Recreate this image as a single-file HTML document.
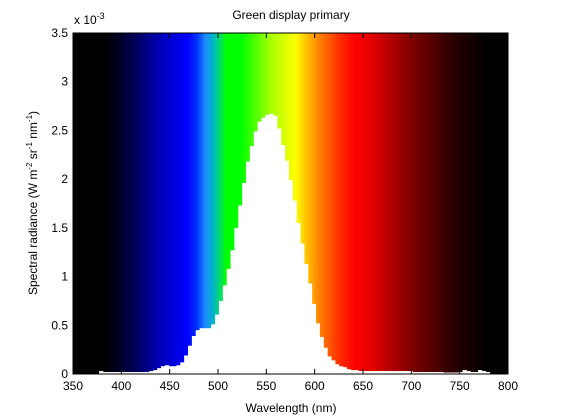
<!DOCTYPE html>
<html><head><meta charset="utf-8"><style>
html,body{margin:0;padding:0;background:#fff;}
svg{display:block;font-family:"Liberation Sans",Arial,sans-serif;}
</style></head><body>
<svg id="chart" width="561" height="420" viewBox="0 0 561 420" xmlns="http://www.w3.org/2000/svg">
<defs>
<linearGradient id="spec" gradientUnits="userSpaceOnUse" x1="73" x2="508" y1="0" y2="0"></linearGradient>
</defs>
<rect x="73" y="33" width="435" height="341" fill="url(#spec)"/>
<g id="bars"></g>
<g id="axes"></g>
<text x="291" y="19" font-size="12" text-anchor="middle">Green display primary</text>
<text x="291" y="412" font-size="12" text-anchor="middle">Wavelength (nm)</text>
<text transform="translate(37,203) rotate(-90)" font-size="12" text-anchor="middle">Spectral radiance (W m<tspan font-size="8" dy="-5">-2</tspan><tspan dy="5"> sr</tspan><tspan font-size="8" dy="-5">-1</tspan><tspan dy="5"> nm</tspan><tspan font-size="8" dy="-5">-1</tspan><tspan dy="5">)</tspan></text>
<text x="74" y="24" font-size="12">x 10<tspan font-size="9" dy="-5">-3</tspan></text>
</svg>
<script>
const xTicks = [350,400,450,500,550,600,650,700,750,800];
const yTicks = [0,0.5,1,1.5,2,2.5,3,3.5];
const yTickLabels = ["0","0.5","1","1.5","2","2.5","3","3.5"];
const binStart = 377;
const binWidth = 4;
const radiance = [0.03,0.02,0.02,0.02,0.02,0.02,0.02,0.02,0.02,0.02,0.02,0.02,0.02,
0.03,0.04,0.06,0.08,0.09,0.08,0.08,0.09,0.12,0.19,0.29,0.39,0.45,0.47,0.47,0.47,0.51,0.61,0.75,0.91,
1.08,1.27,1.50,1.73,1.96,2.18,2.34,2.49,2.59,2.63,2.66,2.67,2.65,2.52,2.35,2.19,1.99,1.78,1.55,1.34,
1.13,0.93,0.72,0.52,0.38,0.27,0.18,0.14,0.10,0.08,0.07,0.05,0.04,0.04,0.03,0.03,
0.03,0.03,0.03,0.03,0.03,0.03,0.03,0.03,0.03,0.03,0.03,0.03,
0.02,0.02,0.02,0.02,0.02,0.02,0.02,0.02,0.015,0.015,0.015,0.015,
0.02,0.04,0.03,0.02,0.02,0.04,0.03,0.02];
const specStops = [[350,"#000000"],[384,"#000000"],[410,"#00004a"],[440,"#0000b8"],[468,"#0000ff"],[478,"#0030ff"],[487,"#1e8cff"],[495,"#00b4c8"],[503,"#00e060"],[508,"#00ff00"],[524,"#00ff00"],[555,"#a8ff00"],[580,"#ffff00"],[592,"#ffc000"],[605,"#ff8000"],[625,"#ff3000"],[642,"#ff0000"],[660,"#e00000"],[700,"#800000"],[740,"#300000"],[778,"#000000"],[800,"#000000"]];

const NS="http://www.w3.org/2000/svg";
const X0=73,X1=508,Y0=374,Y1=33;
function xs(w){return X0+(w-350)/(800-350)*(X1-X0);}
function ys(v){return Y0-v/3.5*(Y0-Y1);}

const grad=document.getElementById('spec');
specStops.forEach(s=>{
  const st=document.createElementNS(NS,'stop');
  st.setAttribute('offset',((s[0]-350)/450*100)+'%');
  st.setAttribute('stop-color',s[1]);
  grad.appendChild(st);
});

const bars=document.getElementById('bars');
radiance.forEach((v,i)=>{
  const w=binStart+i*binWidth;
  const r=document.createElementNS(NS,'rect');
  
  
  const xa=xs(w),xb=xs(w+binWidth);
  r.setAttribute('x',xa);
  r.setAttribute('width',xb-xa+0.4);
  r.setAttribute('y',ys(v));
  r.setAttribute('height',Y0-ys(v));
  r.setAttribute('fill','#ffffff');
  bars.appendChild(r);
});

const axes=document.getElementById('axes');
function el(tag,attrs){const e=document.createElementNS(NS,tag);for(const k in attrs)e.setAttribute(k,attrs[k]);return e;}
const frame=el('rect',{x:X0,y:Y1,width:X1-X0,height:Y0-Y1,fill:'none',stroke:'#000','stroke-width':1});


axes.appendChild(frame);
xTicks.forEach(t=>{
  const x=xs(t);
  const a=el('line',{x1:x,x2:x,y1:Y0,y2:Y0-5,stroke:'#000'});
  
  
  axes.appendChild(a);
  const b=el('line',{x1:x,x2:x,y1:Y1,y2:Y1+5,stroke:'#000'});
  
  
  axes.appendChild(b);
  const tx=el('text',{x:x,y:Y0+16,'font-size':12,'text-anchor':'middle'});
  
  
  tx.textContent=String(t);
  axes.appendChild(tx);
});
yTicks.forEach((t,i)=>{
  const y=ys(t);
  const a=el('line',{x1:X0,x2:X0+5,y1:y,y2:y,stroke:'#000'});
  
  
  axes.appendChild(a);
  const b=el('line',{x1:X1,x2:X1-5,y1:y,y2:y,stroke:'#000'});
  
  
  axes.appendChild(b);
  const tx=el('text',{x:X0-5,y:y+4,'font-size':12,'text-anchor':'end'});
  
  
  tx.textContent=yTickLabels[i];
  axes.appendChild(tx);
});
</script>
</body></html>
